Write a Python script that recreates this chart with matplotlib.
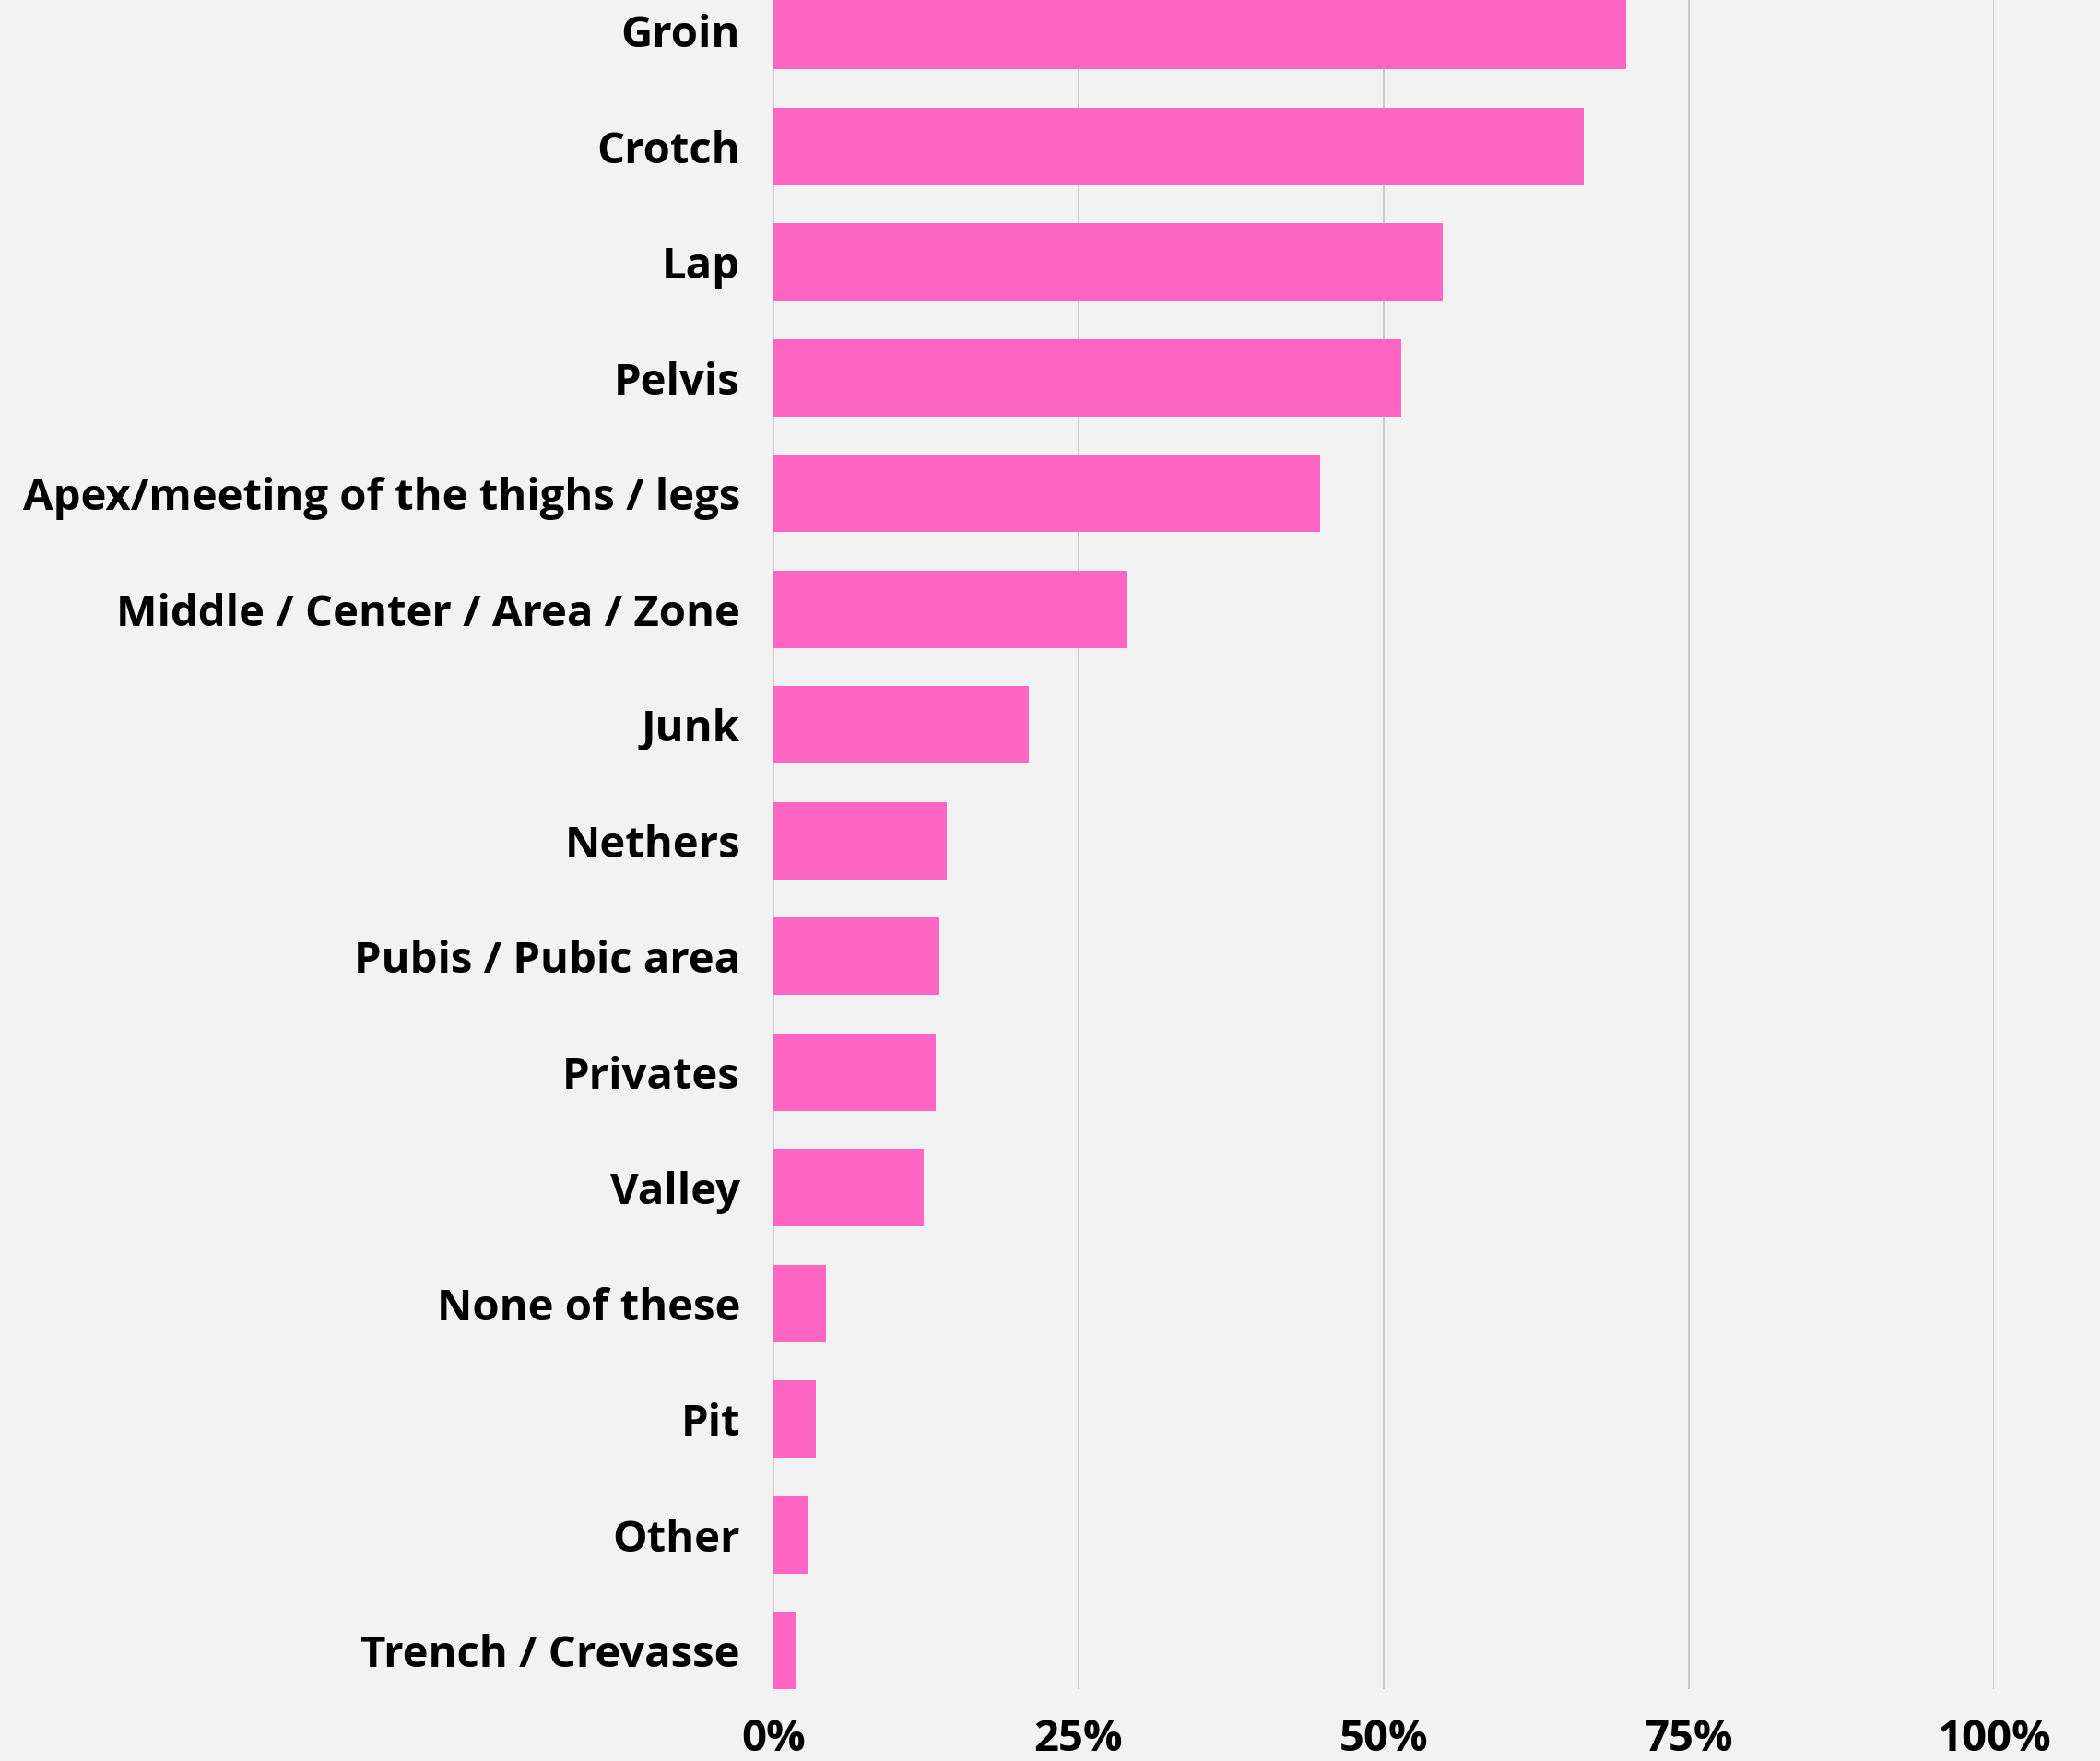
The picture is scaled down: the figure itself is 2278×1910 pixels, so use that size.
import matplotlib.pyplot as plt
import numpy as np

# Survey answers, top to bottom
categories = [
    "Groin", "Crotch", "Lap", "Pelvis", "Apex/meeting of the thighs / legs",
    "Middle / Center / Area / Zone", "Junk", "Nethers", "Pubis / Pubic area",
    "Privates", "Valley", "None of these", "Pit", "Other", "Trench / Crevasse",
]
shares = [69.9, 66.4, 54.8, 51.4, 44.8, 29.0, 20.9, 14.2, 13.6, 13.3, 12.3, 4.3, 3.5, 2.9, 1.8]
tick_values = [0, 25, 50, 75, 100]
tick_labels = ["0%", "25%", "50%", "75%", "100%"]

bg = "#f2f2f2"
pink = "#ff66c4"

plt.rcParams['font.family'] = ['Open Sans', 'DejaVu Sans']

fig = plt.figure(figsize=(22.78, 19.10), dpi=100, facecolor=bg)
ax = fig.add_axes([0.3683, 0.0408, 0.5812, 0.9592], facecolor=bg)

y = np.arange(len(categories))
ax.barh(y, shares, height=0.67, color=pink, zorder=3)

ax.set_xlim(0, 100)
ax.set_ylim(len(categories) - 1 + 0.335, -0.266)

ax.set_xticks(tick_values)
ax.set_xticklabels(tick_labels)
ax.set_yticks(y)
ax.set_yticklabels(categories)

ax.grid(axis='x', color='#c6c6c6', linewidth=1.3, zorder=0)
ax.grid(axis='y', visible=False)
for s in ax.spines.values():
    s.set_visible(False)

ax.tick_params(axis='both', length=0, labelsize=34)
ax.tick_params(axis='y', pad=26)
ax.tick_params(axis='x', pad=22)
for lbl in ax.get_xticklabels() + ax.get_yticklabels():
    lbl.set_fontweight('bold')
    lbl.set_color('black')

fig.savefig("out.png", dpi=100, facecolor=bg)
